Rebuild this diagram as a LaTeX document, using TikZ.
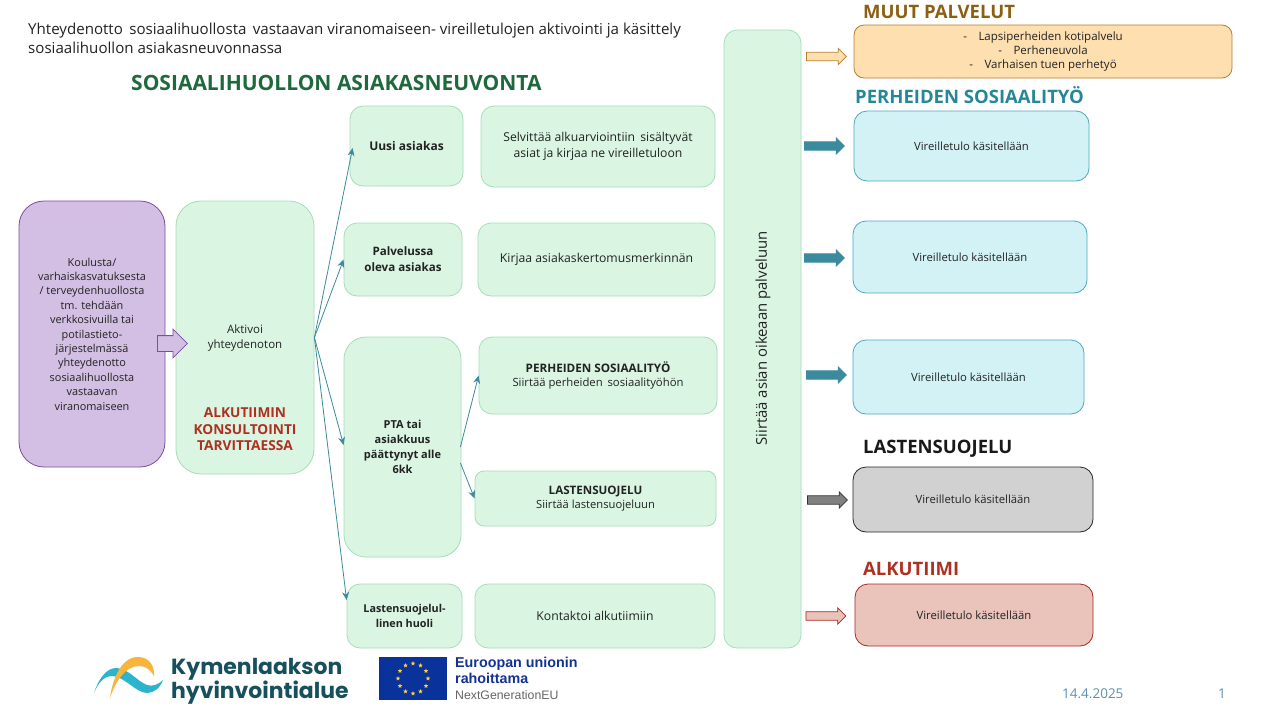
\documentclass[tikz,border=0pt]{standalone}
\usepackage{fontspec}
\setmainfont{Open Sans}
\newfontfamily\logofont{Poppins}
\newfontfamily\eufont{Liberation Sans}
\usetikzlibrary{shapes.arrows,shapes.geometric,arrows.meta,calc}
\definecolor{gfill}{HTML}{DAF5E2}
\definecolor{gline}{HTML}{A5DDBB}
\definecolor{teal1}{HTML}{3B8A9E}
\definecolor{pfill}{HTML}{D3BFE3}
\definecolor{pline}{HTML}{7A4FA0}
\definecolor{ofill}{HTML}{FDDFB0}
\definecolor{oline}{HTML}{B5802A}
\definecolor{cfill}{HTML}{D2F2F6}
\definecolor{cline}{HTML}{4FA6C0}
\definecolor{grfill}{HTML}{D1D1D1}
\definecolor{rfill}{HTML}{EAC3BB}
\definecolor{rline}{HTML}{A82A1E}
\definecolor{redtxt}{HTML}{AE3020}
\definecolor{txt}{HTML}{222222}
\definecolor{maingreen}{RGB}{30,105,60}
\definecolor{brownh}{RGB}{140,95,20}
\definecolor{tealh}{RGB}{38,135,150}
\definecolor{logoblue}{RGB}{45,180,205}
\definecolor{logoorange}{RGB}{248,180,60}
\definecolor{logotext}{RGB}{22,80,92}
\definecolor{eublue}{RGB}{10,50,155}
\definecolor{eustar}{RGB}{255,210,60}
\definecolor{eutext}{RGB}{20,50,150}
\definecolor{datec}{RGB}{95,145,175}
\tikzset{
  x=1pt,y=-1pt,
  base/.style={rounded corners=#1,align=center,inner sep=0pt,text=txt,font=\fontsize{12.2}{16}\selectfont},
  gbox/.style={base=13pt,draw=gline,fill=gfill,line width=.8pt},
  cbox/.style={base=13pt,draw=cline,fill=cfill,line width=.8pt,font=\fontsize{11.3}{14}\selectfont},
  flow/.style={draw=teal1,line width=.8pt,-{Stealth[length=8pt,width=7pt]}},
  block/.style={single arrow,anchor=tail,single arrow head extend=4pt,single arrow tip angle=90,minimum height=40pt,inner xsep=0pt,inner ysep=3.8pt,line width=.8pt},
  head/.style={anchor=west,inner sep=0pt,font=\fontsize{18.5}{20}\selectfont\bfseries},
}
\newcommand{\boxat}[6]{\node[#1,minimum width=#4pt-#2pt,minimum height=#5pt-#3pt] (#6) at ({(#2+#4)/2},{(#3+#5)/2})}
\begin{document}
\begin{tikzpicture}
\useasboundingbox (0,0) rectangle (1280,720);
\fill[white] (0,0) rectangle (1280,720);

\node[anchor=west,inner sep=0pt,align=left,text=txt,font=\fontsize{15.1}{19}\selectfont] (title) at (28,38.5)
 {Yhteydenotto\, sosiaalihuollosta\, vastaavan viranomaiseen- vireilletulojen aktivointi ja käsittely\\sosiaalihuollon asiakasneuvonnassa};
\node[anchor=west,inner sep=0pt,text=maingreen,font=\fontsize{21}{22}\selectfont\bfseries] (main) at (131,83) {SOSIAALIHUOLLON ASIAKASNEUVONTA};

\boxat{base=25pt,draw=pline,fill=pfill,line width=.8pt,font=\fontsize{10.9}{14.4}\selectfont}{19}{201}{165}{467}{start} {Koulusta/\\varhaiskasvatuksesta\\/ terveydenhuollosta\\tm. tehdään\\verkkosivuilla tai\\potilastieto-\\järjestelmässä\\yhteydenotto\\sosiaalihuollosta\\vastaavan\\viranomaiseen};
\boxat{base=25pt,draw=gline,fill=gfill,line width=.8pt}{176}{201}{314}{474}{akt} {};
\node[text=txt,align=center,inner sep=0pt,font=\fontsize{11.5}{14.5}\selectfont] (akttxt) at (245,338) {Aktivoi\\yhteydenoton};
\node[text=redtxt,align=center,inner sep=0pt,font=\fontsize{13.7}{16.5}\selectfont\bfseries] (konsult) at (245,429.5) {ALKUTIIMIN\\KONSULTOINTI\\TARVITTAESSA};

\boxat{gbox,font=\fontsize{12}{17}\selectfont\bfseries}{350}{106}{463}{186}{uusi} {Uusi asiakas};
\boxat{gbox}{481}{106}{715}{187}{selv} {Selvittää alkuarviointiin\, sisältyvät\\asiat ja kirjaa ne vireilletuloon};
\boxat{gbox,font=\fontsize{11.6}{16}\selectfont\bfseries}{344}{223}{462}{296}{palv} {Palvelussa\\oleva asiakas};
\boxat{gbox}{478}{223}{715}{296}{kirj} {Kirjaa asiakaskertomusmerkinnän};
\boxat{base=22pt,draw=gline,fill=gfill,line width=.8pt,font=\fontsize{11}{15}\selectfont\bfseries}{344}{337}{461}{557}{pta} {PTA tai\\asiakkuus\\päättynyt alle\\6kk};
\boxat{gbox,font=\fontsize{11.3}{14.5}\selectfont}{479}{337}{717}{414}{perh} {{\fontsize{11.7}{14.5}\selectfont\bfseries PERHEIDEN SOSIAALITYÖ}\\Siirtää perheiden\, sosiaalityöhön};
\boxat{base=9pt,draw=gline,fill=gfill,line width=.8pt,font=\fontsize{11.2}{14.5}\selectfont}{475}{471}{716}{526}{last} {{\fontsize{11.6}{14.5}\selectfont\bfseries LASTENSUOJELU}\\Siirtää lastensuojeluun};
\boxat{gbox,font=\fontsize{10.8}{15}\selectfont\bfseries}{347}{584}{462}{648}{huoli} {Lastensuojelul-\\linen huoli};
\boxat{gbox}{475}{584}{715}{648}{kont} {Kontaktoi alkutiimiin};
\boxat{base=13pt,draw=gline,fill=gfill,line width=.8pt}{724}{30}{801}{648}{siir} {};
\node[rotate=90,inner sep=0pt,text=txt,font=\fontsize{14.9}{16}\selectfont] (siirtxt) at (763,338.5) {Siirtää asian oikeaan palveluun};

\boxat{base=10pt,draw=oline,fill=ofill,line width=.8pt,font=\fontsize{11.5}{14}\selectfont}{854}{25}{1232}{78}{muut} {-\quad Lapsiperheiden kotipalvelu\\-\quad Perheneuvola\\-\quad Varhaisen tuen perhetyö};
\boxat{cbox}{854}{111}{1089}{181}{c1} {Vireilletulo käsitellään};
\boxat{cbox}{853}{221}{1087}{293}{c2} {Vireilletulo käsitellään};
\boxat{cbox}{853}{340}{1084}{414}{c3} {Vireilletulo käsitellään};
\boxat{cbox,draw=black!85,fill=grfill}{853}{467}{1093}{532}{grey} {Vireilletulo käsitellään};
\boxat{cbox,draw=rline,fill=rfill}{855}{584}{1093}{646}{red} {Vireilletulo käsitellään};

\node[head,text=brownh] (hm) at (863,11.5) {MUUT PALVELUT};
\node[head,text=tealh] (hp) at (855,95.5) {PERHEIDEN SOSIAALITYÖ};
\node[head,text=black!90] (hl) at (863,448.5) {LASTENSUOJELU};
\node[head,text=redtxt] (ha) at (863,568.5) {ALKUTIIMI};

\node[block,minimum height=30pt,inner ysep=7.5pt,single arrow head extend=6.5pt,draw=pline,fill=pfill] (a0) at (157,343.5) {};
\node[block,draw=oline,fill=ofill] (a1) at (806,56.5) {};
\node[block,draw=teal1,fill=teal1] (a2) at (804,146) {};
\node[block,draw=teal1,fill=teal1] (a3) at (804,258) {};
\node[block,draw=teal1,fill=teal1] (a4) at (806,375) {};
\node[block,draw=black!80,fill=black!50] (a5) at (807,500) {};
\node[block,draw=rline,fill=rfill] (a6) at (805.5,616) {};

\coordinate (hub) at (akt.east);
\draw[flow] (hub) -- ($(uusi.west)+(3,2)$);
\draw[flow] (hub) -- (palv.west);
\draw[flow] (hub) -- ($(pta.west)+(0,-2)$);
\draw[flow] (hub) -- ($(huoli.west)+(0,-16)$);
\draw[flow] ($(pta.east)+(-1,0)$) -- (perh.west);
\draw[flow] ($(pta.east)+(-1,16)$) -- (last.west);

% Kymenlaakso logo
\fill[logoblue] (94,693) .. controls (98,680) and (106,668) .. (116,668) .. controls (128,668) and (138,682) .. (147,685) .. controls (153,687) and (159,684) .. (163,680) .. controls (160,688) and (154,693) .. (147,693) .. controls (136,693) and (124,676) .. (112,676) .. controls (104,676) and (98,683) .. (94,693) -- cycle;
\fill[logoorange] (110,698) .. controls (112,682) and (120,657) .. (138,657) .. controls (149,657) and (155,666) .. (154,676) .. controls (150,669) and (145,666) .. (139,666) .. controls (126,666) and (116,680) .. (110,698) -- cycle;
\node[anchor=west,inner sep=0pt,align=left,text=logotext,font=\logofont\fontsize{21.9}{22}\selectfont\bfseries] (kym) at (171,681) {Kymenlaakson\\hyvinvointialue};

% EU
\node[fill=eublue,minimum width=68pt,minimum height=43pt,inner sep=0pt] (flag) at (413,678.5) {};
\foreach \a in {0,30,...,330}
  \node[star,star points=5,star point ratio=2.4,fill=eustar,inner sep=0pt,minimum size=4.8pt] at ($(flag.center)+(\a:15)$) {};
\node[anchor=west,inner sep=0pt,align=left,text=eutext,font=\eufont\fontsize{14.3}{16.5}\selectfont\bfseries] (eu) at (455,670.5) {Euroopan unionin\\rahoittama};
\node[anchor=west,inner sep=0pt,text=black!60,font=\eufont\fontsize{12.3}{13}\selectfont] (ng) at (455,695.5) {NextGenerationEU};

\node[anchor=west,inner sep=0pt,text=datec,font=\fontsize{13.5}{14}\selectfont] (date) at (1062,694) {14.4.2025};
\node[inner sep=0pt,text=datec,font=\fontsize{13.5}{14}\selectfont] (pg) at (1222,694) {1};
\end{tikzpicture}
\end{document}
